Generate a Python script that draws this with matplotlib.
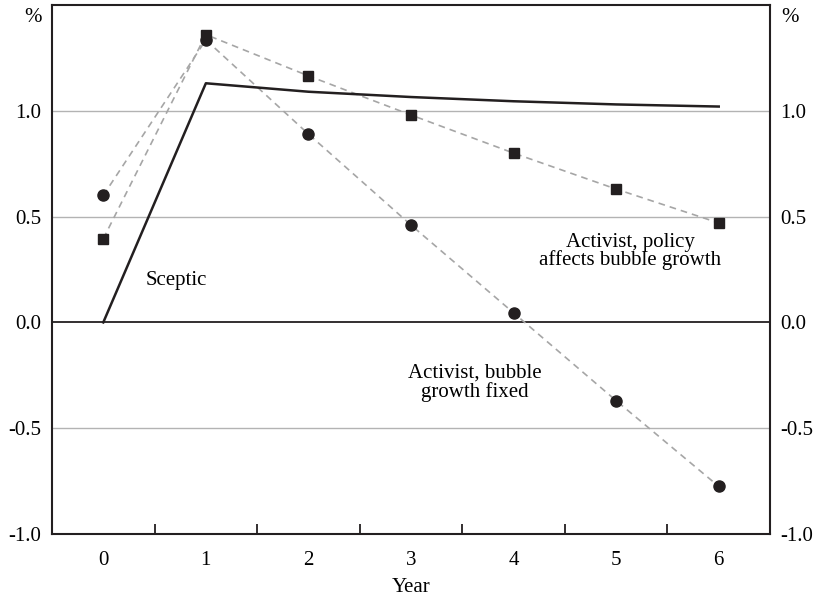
import matplotlib
matplotlib.use("Agg")
import matplotlib.pyplot as plt

years = [0, 1, 2, 3, 4, 5, 6]
sceptic = [0.0, 1.13, 1.09, 1.065, 1.045, 1.03, 1.02]
activist_fixed = [0.60, 1.335, 0.89, 0.46, 0.045, -0.37, -0.775]
activist_policy = [0.395, 1.36, 1.165, 0.98, 0.80, 0.63, 0.47]
yticks = [-1.0, -0.5, 0.0, 0.5, 1.0]
ytick_labels = ["-1.0", "-0.5", "0.0", "0.5", "1.0"]

plt.rcParams['font.family'] = ['Liberation Serif', 'DejaVu Serif']
FS = 15
fig = plt.figure(figsize=(8.15, 5.99), dpi=100)
ax = fig.add_axes([0.0638, 0.1085, 0.8810, 0.8832])
ax.set_xlim(-0.5, 6.5)
ax.set_ylim(-1.0, 1.5)

for y in [-0.5, 0.5, 1.0]:
    ax.axhline(y, color='#b3b3b3', lw=1.0, zorder=1)
ax.axhline(0, color='#231f20', lw=1.3, zorder=1)

gray = '#a6a6a6'
ax.plot(years, activist_fixed, ls=(0, (4, 3)), color=gray, lw=1.2, zorder=2)
ax.plot(years, activist_policy, ls=(0, (4, 3)), color=gray, lw=1.2, zorder=2)
ax.plot(years, activist_fixed, ls='none', marker='o', ms=8, color='#231f20', zorder=3)
ax.plot(years, activist_policy, ls='none', marker='s', ms=7.5, color='#231f20', zorder=3)
ax.plot(years, sceptic, color='#231f20', lw=1.8, zorder=4)

ax.set_yticks(yticks)
ax.set_yticklabels(ytick_labels)
ax.tick_params(axis='y', length=0, labelsize=FS, pad=7.5, labelright=True, right=False)
ax.set_xticks(years)
ax.set_xticklabels([str(y) for y in years])
ax.set_xticks([y + 0.5 for y in years[:-1]], minor=True)
ax.tick_params(axis='x', which='major', length=0, labelsize=FS, pad=12)
ax.tick_params(axis='x', which='minor', length=7, width=1.3, direction='in', color='#231f20')
for s in ax.spines.values():
    s.set_color('#231f20')
    s.set_linewidth(1.5)

ax.set_xlabel('Year', fontsize=FS, labelpad=6)
fig.text(0.040, 0.970, '%', fontsize=FS, ha='center', va='center')
fig.text(0.969, 0.970, '%', fontsize=FS, ha='center', va='center')

ax.text(0.71, 0.20, 'Sceptic', fontsize=FS, ha='center', va='center')
ax.text(3.62, -0.285, 'Activist, bubble\ngrowth fixed', fontsize=FS, ha='center', va='center', linespacing=0.95)
ax.text(5.14, 0.335, 'Activist, policy\naffects bubble growth', fontsize=FS, ha='center', va='center', linespacing=0.92)

fig.savefig('out.png', dpi=100)
